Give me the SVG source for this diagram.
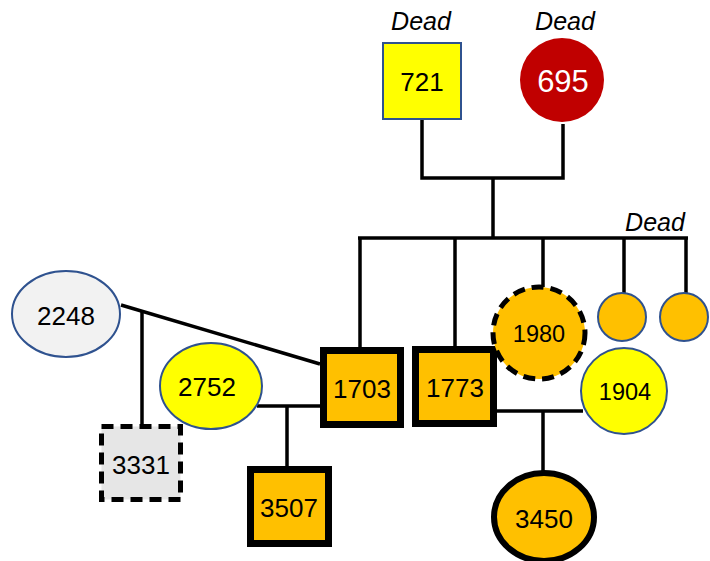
<svg xmlns="http://www.w3.org/2000/svg" width="710" height="561" viewBox="0 0 710 561">
<style>
text{font-family:"Liberation Sans","DejaVu Sans",sans-serif;text-anchor:middle;dominant-baseline:central;fill:#000}
.lbl{font-size:26px}
.sm{font-size:23.5px}
.dead{font-size:25px;font-style:italic}
.thin{stroke:#2F528F;stroke-width:2}
.thick{stroke:#000;stroke-width:7}
.dash{stroke:#000;stroke-width:5;stroke-dasharray:12 7}
.orange{fill:#FFC000}
.yellow{fill:#FFFF00}
#connectors line,#connectors polyline{stroke:#000;stroke-width:3.5;fill:none}
</style>
<rect width="710" height="561" fill="#fff"/>
<g id="connectors">
<polyline points="422,119 422,178 563,178 563,124"/>
<line x1="493" y1="178" x2="493" y2="238"/>
<line x1="358" y1="238" x2="688" y2="238"/>
<line x1="360" y1="238" x2="360" y2="347"/>
<line x1="455" y1="238" x2="455" y2="346"/>
<line x1="543" y1="238" x2="543" y2="287"/>
<line x1="624" y1="238" x2="624" y2="293"/>
<line x1="686" y1="238" x2="686" y2="293"/>
<line x1="121" y1="305" x2="320" y2="364"/>
<line x1="142" y1="311" x2="142" y2="424"/>
<line x1="257" y1="406" x2="320" y2="406"/>
<line x1="287" y1="406" x2="287" y2="466"/>
<line x1="497" y1="411" x2="583" y2="411"/>
<line x1="543" y1="411" x2="543" y2="471"/>
</g>
<text class="dead" x="421" y="21">Dead</text>
<text class="dead" x="565" y="21">Dead</text>
<text class="dead" x="655" y="222">Dead</text>
<g id="n721"><rect x="383" y="43" width="78" height="76" class="thin yellow"/><text class="lbl" x="422" y="82">721</text></g>
<g id="n695"><circle cx="562" cy="80" r="42" fill="#C00000"/><text x="563" y="81" style="font-size:31px;fill:#fff">695</text></g>
<g id="n1703"><rect x="323.5" y="350.5" width="77" height="74" class="thick orange"/><text class="lbl" x="362" y="389">1703</text></g>
<g id="n1773"><rect x="415.5" y="349.5" width="78" height="74" class="thick orange"/><text class="lbl" x="455" y="388">1773</text></g>
<g id="n1980"><circle cx="539" cy="333" r="46" class="dash orange"/><text class="sm" x="539" y="334">1980</text></g>
<g id="s1"><circle cx="622" cy="317" r="24" class="thin orange"/></g>
<g id="s2"><circle cx="684" cy="317" r="24" class="thin orange"/></g>
<g id="n1904"><circle cx="624" cy="391" r="43" class="thin yellow"/><text class="sm" x="625" y="392">1904</text></g>
<g id="n3450"><ellipse cx="544" cy="517" rx="50" ry="44" class="thick orange" style="stroke-width:6"/><text class="lbl" x="544" y="519">3450</text></g>
<g id="n2248"><ellipse cx="66" cy="314" rx="54" ry="43" class="thin" fill="#F2F2F2"/><text class="lbl" x="66" y="316">2248</text></g>
<g id="n2752"><ellipse cx="211" cy="386" rx="51" ry="43" class="thin yellow"/><text class="lbl" x="207" y="387">2752</text></g>
<g id="n3331"><rect x="101.5" y="426.5" width="79" height="73" class="dash" fill="#E6E6E6"/><text class="lbl" x="141" y="465">3331</text></g>
<g id="n3507"><rect x="250.5" y="469.5" width="78" height="74" class="thick orange"/><text class="lbl" x="289" y="508">3507</text></g>
</svg>
